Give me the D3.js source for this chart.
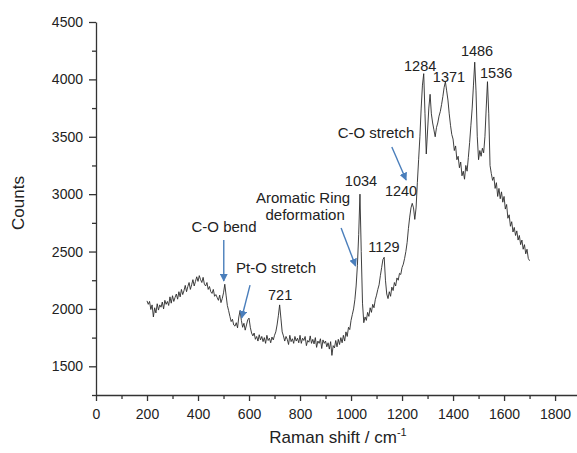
<!DOCTYPE html>
<html>
<head>
<meta charset="utf-8">
<script src="https://cdn.jsdelivr.net/npm/d3@7"></script>
<style>
  body{margin:0;background:#fff;}
  svg{display:block;font-family:"Liberation Sans",Arial,sans-serif;}
  .axis path,.axis line{stroke:#333;stroke-width:1.3;}
  .axis text{fill:#222;font-size:14px;font-family:"Liberation Sans",Arial,sans-serif;}
</style>
</head>
<body>
<svg id="chart" width="577" height="453"></svg>
<script>
// spectrum, sampled every 5 cm-1 from 200 to 1700
const shiftStart=200, shiftStep=5;
const counts=[
  2070,2040,2065,1995,2035,1930,2010,1965,2045,1990,
  2035,2015,2060,2000,2075,2040,2065,2030,2105,2050,
  2115,2065,2100,2130,2085,2150,2105,2170,2125,2160,
  2205,2150,2195,2230,2170,2210,2255,2200,2240,2280,
  2240,2290,2255,2230,2275,2215,2200,2230,2170,2195,
  2150,2135,2170,2110,2125,2100,2075,2120,2055,2090,
  2140,2215,2120,2030,1985,1935,1890,1910,1860,1850,
  1880,1835,1930,1985,1900,1840,1875,1815,1860,1905,
  1920,1840,1790,1765,1790,1735,1760,1720,1775,1730,
  1760,1715,1750,1700,1770,1725,1745,1705,1755,1730,
  1770,1800,1860,1940,2035,1920,1800,1765,1720,1760,
  1735,1690,1770,1715,1740,1700,1760,1720,1745,1705,
  1770,1700,1745,1725,1760,1680,1725,1710,1765,1700,
  1735,1695,1750,1665,1720,1700,1740,1655,1730,1700,
  1720,1670,1705,1650,1715,1595,1680,1660,1725,1670,
  1735,1690,1750,1705,1770,1720,1800,1760,1840,1820,
  1900,1950,2000,2080,2200,2380,2650,3000,2500,2050,
  1880,1930,1900,1970,1935,2010,1970,2040,2010,2080,
  2120,2170,2210,2290,2360,2430,2450,2250,2130,2090,
  2150,2110,2190,2160,2230,2200,2270,2250,2310,2300,
  2360,2390,2440,2500,2580,2700,2800,2880,2920,2880,
  2780,2880,3100,3300,3500,3750,3950,4050,3700,3350,
  3550,3750,3870,3700,3620,3560,3500,3580,3620,3680,
  3720,3780,3850,3930,3980,3900,3820,3700,3600,3520,
  3480,3380,3420,3300,3330,3230,3280,3160,3200,3130,
  3250,3200,3320,3450,3600,3750,3950,4150,3900,3500,
  3300,3380,3330,3400,3360,3500,3750,3980,3700,3250,
  3180,3120,3150,3050,3100,2980,3050,2960,3020,2930,
  2980,2870,2910,2790,2820,2720,2760,2670,2710,2640,
  2680,2600,2640,2560,2600,2520,2560,2480,2520,2440,
  2420
];
const ramanShift=counts.map((c,i)=>shiftStart+i*shiftStep);

const xTicks=[0,200,400,600,800,1000,1200,1400,1600,1800];
const xMinor=[100,300,500,700,900,1100,1300,1500,1700];
const yTicks=[1500,2000,2500,3000,3500,4000,4500];
const yMinor=[1250,1750,2250,2750,3250,3750,4250];

// peak labels [shift, counts, text]
const peakLabels=[
  [1271,4117,"1284"],[1384,4021,"1371"],[1494,4247,"1486"],[1569,4056,"1536"],
  [1196,3027,"1240"],[1039,3115,"1034"],[1129,2540,"1129"],[722,2121,"721"]
];
// band assignments
const bandLabels=[
  [1098,3533,"C-O stretch"],[812,2966,"Aromatic Ring"],[820,2818,"deformation"],
  [502,2714,"C-O bend"],[706,2357,"Pt-O stretch"]
];
// arrows [x1,y1,x2,y2] in data units
const arrows=[
  [501,2600,501,2243],
  [604,2208,571,1921],
  [961,2705,1018,2374],
  [1160,3411,1216,3123]
];

const svg=d3.select("#chart");
const x=d3.scaleLinear().domain([0,1886]).range([96,577]);
const y=d3.scaleLinear().domain([1250,4500]).range([395,22]);

svg.append("defs").append("marker")
  .attr("id","head").attr("viewBox","0 0 10 10").attr("refX",9).attr("refY",5)
  .attr("markerWidth",8).attr("markerHeight",8).attr("markerUnits","userSpaceOnUse")
  .attr("orient","auto")
  .append("path").attr("d","M0,0 L10,5 L0,10 z").attr("fill","#4a7ebb");

// minor ticks first
svg.append("g").attr("class","axis").attr("transform","translate(0,395)")
  .call(d3.axisBottom(x).tickValues(xMinor).tickSize(4).tickFormat(""))
  .call(g=>g.select(".domain").remove());
svg.append("g").attr("class","axis").attr("transform","translate(96,0)")
  .call(d3.axisLeft(y).tickValues(yMinor).tickSize(4).tickFormat(""))
  .call(g=>g.select(".domain").remove());

svg.append("g").attr("class","axis").attr("transform","translate(0,395)")
  .call(d3.axisBottom(x).tickValues(xTicks).tickSize(6).tickSizeOuter(0).tickPadding(8).tickFormat(d3.format("d")));
svg.append("g").attr("class","axis").attr("transform","translate(96,0)")
  .call(d3.axisLeft(y).tickValues(yTicks).tickSize(7).tickSizeOuter(0).tickPadding(6).tickFormat(d3.format("d")));

// spectrum
const line=d3.line().x((d,i)=>x(ramanShift[i])).y(d=>y(d));
svg.append("path").datum(counts)
  .attr("d",line).attr("fill","none").attr("stroke","#2a2a2a").attr("stroke-width",0.9)
  .attr("stroke-linejoin","round");

// annotations
svg.append("g").selectAll("text").data(peakLabels).join("text")
  .attr("x",d=>x(d[0])).attr("y",d=>y(d[1])).attr("dy","0.35em")
  .attr("text-anchor","middle").attr("font-size",14.5).attr("fill","#222").text(d=>d[2]);
svg.append("g").selectAll("text").data(bandLabels).join("text")
  .attr("x",d=>x(d[0])).attr("y",d=>y(d[1])).attr("dy","0.35em")
  .attr("text-anchor","middle").attr("font-size",15).attr("fill","#222").text(d=>d[2]);
svg.append("g").selectAll("line").data(arrows).join("line")
  .attr("x1",d=>x(d[0])).attr("y1",d=>y(d[1])).attr("x2",d=>x(d[2])).attr("y2",d=>y(d[3]))
  .attr("stroke","#4a7ebb").attr("stroke-width",1.4).attr("marker-end","url(#head)");

// axis titles
svg.append("text").attr("transform","translate(24,203) rotate(-90)")
  .attr("text-anchor","middle").attr("font-size",17).attr("fill","#222").text("Counts");
const xt=svg.append("text").attr("x",338).attr("y",443)
  .attr("text-anchor","middle").attr("font-size",17).attr("fill","#222");
xt.append("tspan").text("Raman shift / cm");
xt.append("tspan").attr("dy",-7).attr("font-size",11).text("-1");
</script>
</body>
</html>
